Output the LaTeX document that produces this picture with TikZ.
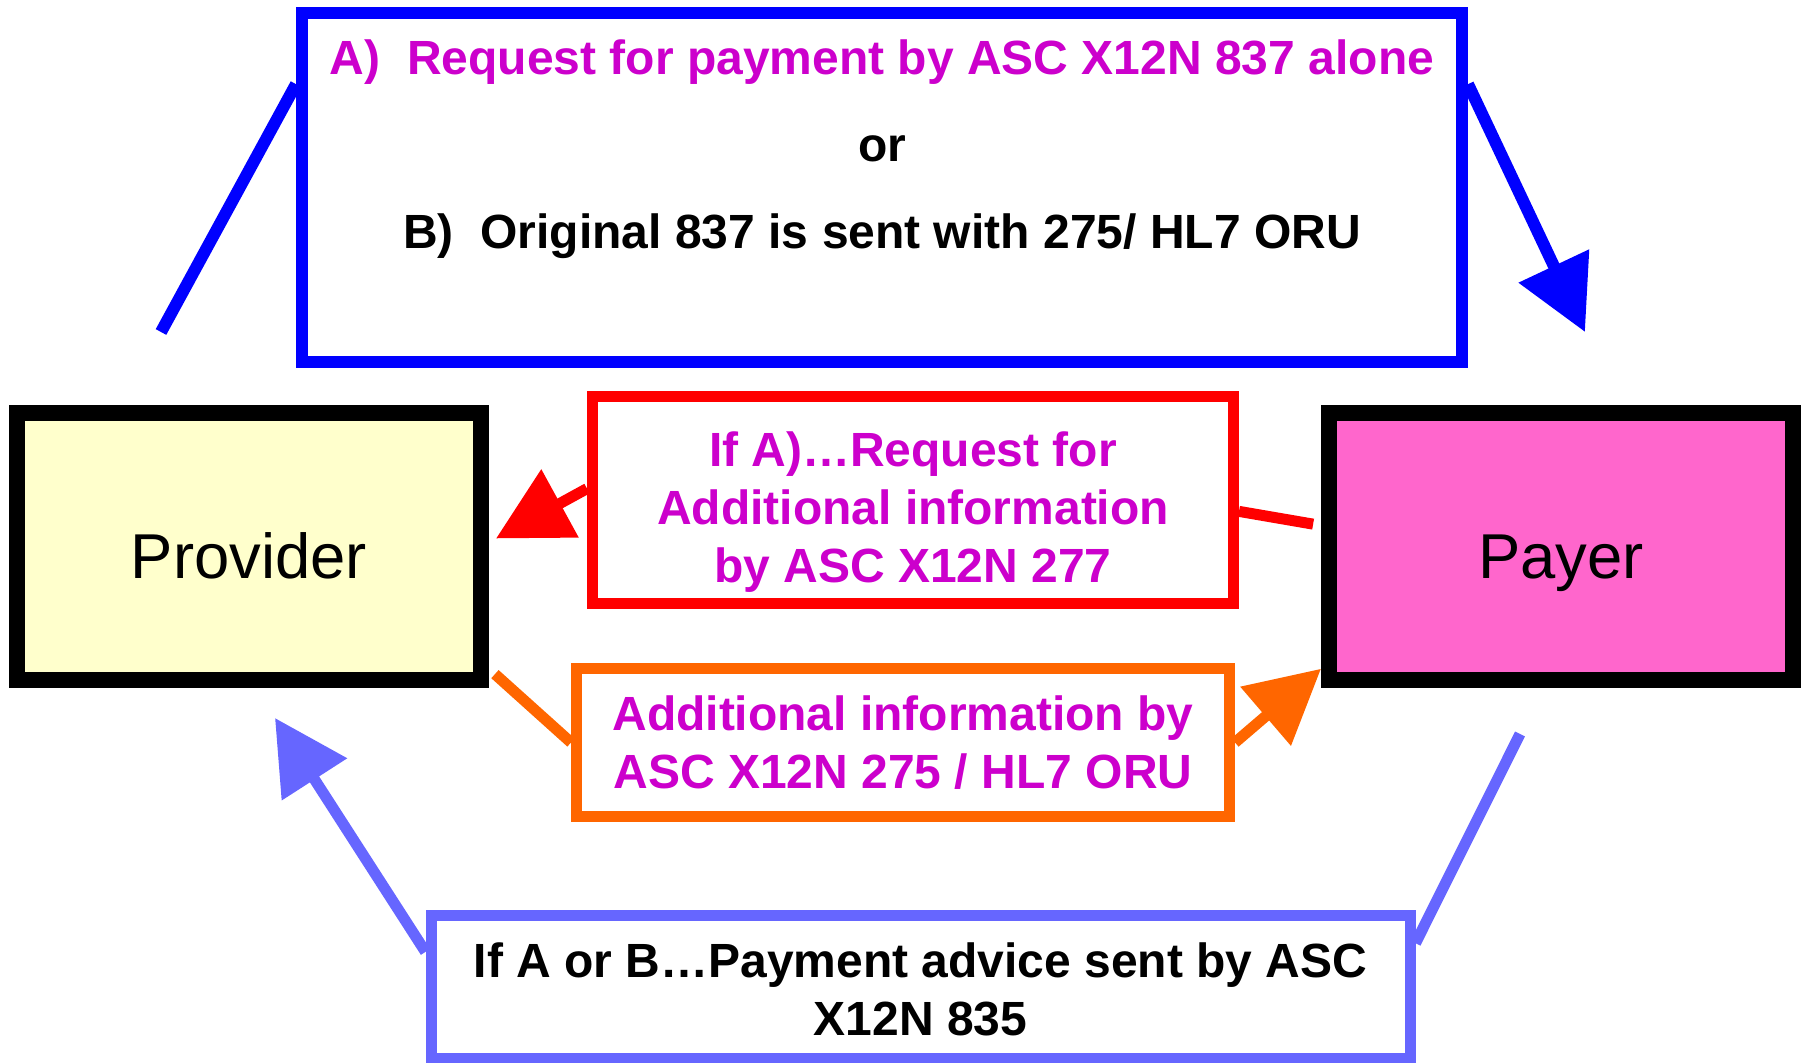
\documentclass[tikz,border=0pt]{standalone}
\usepackage{fontspec}
\setmainfont{Liberation Sans}
\usetikzlibrary{arrows.meta}
\definecolor{reqblue}{RGB}{0, 0, 255}
\definecolor{addred}{RGB}{255, 0, 0}
\definecolor{infoorange}{RGB}{255, 102, 0}
\definecolor{adviceviolet}{RGB}{102, 102, 255}
\definecolor{textmagenta}{RGB}{204, 0, 204}
\definecolor{providerfill}{RGB}{255, 255, 204}
\definecolor{payerfill}{RGB}{255, 102, 204}

\begin{document}
\begin{tikzpicture}[x=0.5pt, y=-0.5pt,
  party/.style={draw=black, line width=8pt, minimum width=232pt, minimum height=133.5pt,
    font=\fontsize{31.7}{38}\selectfont, text height=31.7pt, text depth=0pt},
  box/.style={draw, fill=white, line width=5.5pt, align=center, inner sep=0pt,
    font=\fontsize{24}{29}\selectfont\bfseries},
  link/.style={line width=5.5pt},
  >={Triangle[length=36.5pt, width=37.5pt]},
]
\useasboundingbox (0,0) rectangle (1806,1063);

% Provider and payer
\node[party, fill=providerfill] (provider) at (249,546.5) {Provider};
\node[party, fill=payerfill] (payer) at (1561,546.5) {Payer};

% Request for payment
\node[box, draw=reqblue, line width=6pt, minimum width=580pt, minimum height=174.5pt,
  font=\fontsize{24}{43.5}\selectfont\bfseries] (request) at (882,187.5)
{\textcolor{textmagenta}{A)~~Request for payment by ASC X12N 837 alone}\\
or\\
B)~~Original 837 is sent with 275/ HL7 ORU\\
\mbox{}};

% Request for additional information
\node[box, draw=addred, text=textmagenta, minimum width=320.5pt, minimum height=103.5pt]
  (addreq) at (913,500)
{\rule{0pt}{29.5pt}If A)…Request for\\Additional information\\by ASC X12N 277};

% Additional information
\node[box, draw=infoorange, text=textmagenta, minimum width=326.5pt, minimum height=74pt]
  (addinfo) at (903,742.5)
{Additional information by\\ASC X12N 275 / HL7 ORU};

% Payment advice
\node[box, draw=adviceviolet, minimum width=489.5pt, minimum height=71.5pt]
  (advice) at (920.5,986.5)
{\rule{0pt}{20.5pt}If A or B…Payment advice sent by ASC\\X12N 835};

% free ends
\coordinate (provtop) at (161,332);
\coordinate (payertop) at (1585,332);
\coordinate (provbot) at (275,718);
\coordinate (payerbot) at (1520,734);

% connectors
\draw[link, reqblue, line width=6pt] (provtop) -- (request.170);
\draw[link, reqblue, line width=6pt, ->] (request.10) -- (payertop);
\draw[link, addred, ->, shorten >=4pt] (addreq.178) -- (provider.1);
\draw[link, addred, shorten >=4pt] (addreq.-2) -- (payer.175);
\draw[link, infoorange, shorten <=4pt] (provider.-27) -- (addinfo.west);
\draw[link, infoorange, ->] (addinfo.east) -- (payer.207);
\draw[link, adviceviolet, ->] (advice.176) -- (provbot);
\draw[link, adviceviolet] (advice.5) -- (payerbot);
\end{tikzpicture}
\end{document}
